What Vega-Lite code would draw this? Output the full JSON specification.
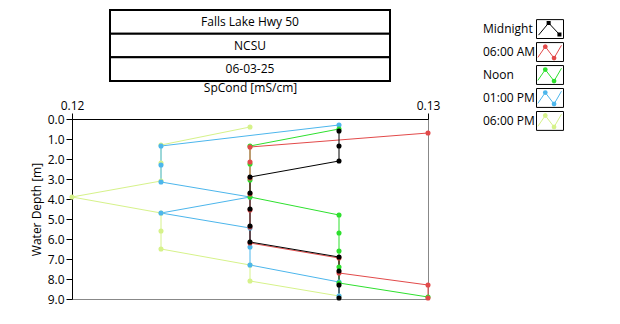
{
  "$schema": "https://vega.github.io/schema/vega-lite/v6.json",
  "padding": {"left": 29, "top": 9, "right": 5, "bottom": 5},
  "background": "white",
  "config": {
    "view": {"stroke": null},
    "font": "Open Sans",
    "axis": {"labelFont": "Open Sans", "titleFont": "Open Sans", "labelFontSize": 12, "titleFontSize": 12, "titleFontWeight": "normal", "labelColor": "black", "titleColor": "black", "domainColor": "black", "tickColor": "black", "grid": false},
    "text": {"font": "Open Sans"}
  },
  "hconcat": [
    {
      "vconcat": [
        {
          "width": 356,
          "height": 71,
          "data": {"values": [
            {"row": 1, "col": "a", "label": "Falls Lake Hwy 50"},
            {"row": 2, "col": "a", "label": "NCSU"},
            {"row": 3, "col": "a", "label": "06-03-25"}
          ]},
          "encoding": {
            "x": {"field": "col", "type": "nominal", "scale": {"type": "band", "paddingInner": 0, "paddingOuter": 0.1357}, "axis": null},
            "y": {"field": "row", "type": "ordinal", "scale": {"type": "band", "paddingInner": 0, "paddingOuter": 0}, "axis": null}
          },
          "layer": [
            {"mark": {"type": "rect", "fill": "white", "stroke": "black", "strokeWidth": 2}},
            {"mark": {"type": "text", "fontSize": 12, "color": "black"}, "encoding": {"text": {"field": "label"}}}
          ]
        },
        {
          "width": 356,
          "height": 180,
          "view": {"stroke": "#888888"},
          "data": {"values": [
            {"series": "06:00 PM", "depth": 0.4, "spc": 0.125},
            {"series": "06:00 PM", "depth": 1.3, "spc": 0.1225},
            {"series": "06:00 PM", "depth": 2.2, "spc": 0.1225},
            {"series": "06:00 PM", "depth": 3.1, "spc": 0.1225},
            {"series": "06:00 PM", "depth": 3.9, "spc": 0.12},
            {"series": "06:00 PM", "depth": 4.7, "spc": 0.1225},
            {"series": "06:00 PM", "depth": 5.6, "spc": 0.1225},
            {"series": "06:00 PM", "depth": 6.5, "spc": 0.1225},
            {"series": "06:00 PM", "depth": 7.3, "spc": 0.125},
            {"series": "06:00 PM", "depth": 8.1, "spc": 0.125},
            {"series": "06:00 PM", "depth": 8.85, "spc": 0.1275},
            {"series": "01:00 PM", "depth": 0.3, "spc": 0.1275},
            {"series": "01:00 PM", "depth": 1.35, "spc": 0.1225},
            {"series": "01:00 PM", "depth": 2.3, "spc": 0.1225},
            {"series": "01:00 PM", "depth": 3.15, "spc": 0.1225},
            {"series": "01:00 PM", "depth": 3.9, "spc": 0.125},
            {"series": "01:00 PM", "depth": 4.7, "spc": 0.1225},
            {"series": "01:00 PM", "depth": 5.45, "spc": 0.125},
            {"series": "01:00 PM", "depth": 6.4, "spc": 0.125},
            {"series": "01:00 PM", "depth": 7.3, "spc": 0.125},
            {"series": "01:00 PM", "depth": 8.15, "spc": 0.1275},
            {"series": "01:00 PM", "depth": 8.85, "spc": 0.1275},
            {"series": "Noon", "depth": 0.5, "spc": 0.1275},
            {"series": "Noon", "depth": 1.35, "spc": 0.125},
            {"series": "Noon", "depth": 2.25, "spc": 0.125},
            {"series": "Noon", "depth": 3.05, "spc": 0.125},
            {"series": "Noon", "depth": 3.9, "spc": 0.125},
            {"series": "Noon", "depth": 4.8, "spc": 0.1275},
            {"series": "Noon", "depth": 5.7, "spc": 0.1275},
            {"series": "Noon", "depth": 6.6, "spc": 0.1275},
            {"series": "Noon", "depth": 7.4, "spc": 0.1275},
            {"series": "Noon", "depth": 8.2, "spc": 0.1275},
            {"series": "Noon", "depth": 8.9, "spc": 0.13},
            {"series": "06:00 AM", "depth": 0.7, "spc": 0.13},
            {"series": "06:00 AM", "depth": 1.4, "spc": 0.125},
            {"series": "06:00 AM", "depth": 2.15, "spc": 0.125},
            {"series": "06:00 AM", "depth": 2.95, "spc": 0.125},
            {"series": "06:00 AM", "depth": 3.75, "spc": 0.125},
            {"series": "06:00 AM", "depth": 4.55, "spc": 0.125},
            {"series": "06:00 AM", "depth": 5.4, "spc": 0.125},
            {"series": "06:00 AM", "depth": 6.2, "spc": 0.125},
            {"series": "06:00 AM", "depth": 6.95, "spc": 0.1275},
            {"series": "06:00 AM", "depth": 7.7, "spc": 0.1275},
            {"series": "06:00 AM", "depth": 8.3, "spc": 0.13},
            {"series": "06:00 AM", "depth": 8.95, "spc": 0.13},
            {"series": "Midnight", "depth": 0.6, "spc": 0.1275},
            {"series": "Midnight", "depth": 1.35, "spc": 0.1275},
            {"series": "Midnight", "depth": 2.1, "spc": 0.1275},
            {"series": "Midnight", "depth": 2.9, "spc": 0.125},
            {"series": "Midnight", "depth": 3.7, "spc": 0.125},
            {"series": "Midnight", "depth": 4.5, "spc": 0.125},
            {"series": "Midnight", "depth": 5.35, "spc": 0.125},
            {"series": "Midnight", "depth": 6.15, "spc": 0.125},
            {"series": "Midnight", "depth": 6.9, "spc": 0.1275},
            {"series": "Midnight", "depth": 7.6, "spc": 0.1275},
            {"series": "Midnight", "depth": 8.3, "spc": 0.1275},
            {"series": "Midnight", "depth": 8.95, "spc": 0.1275}
          ]},
          "encoding": {
            "x": {"field": "spc", "type": "quantitative", "scale": {"domain": [0.12, 0.13], "nice": false, "zero": false},
                  "axis": {"orient": "top", "values": [0.12, 0.13], "format": ".2f", "title": "SpCond [mS/cm]", "tickSize": 6, "labelPadding": 1, "titlePadding": 5, "labelFlush": false}},
            "y": {"field": "depth", "type": "quantitative", "scale": {"domain": [0, 9], "reverse": true, "nice": false, "zero": false},
                  "axis": {"values": [0, 1, 2, 3, 4, 5, 6, 7, 8, 9], "format": ".1f", "title": "Water Depth [m]", "tickSize": 6, "labelPadding": 2, "titlePadding": 4}},
            "color": {"field": "series", "type": "nominal",
                      "scale": {"domain": ["Midnight", "06:00 AM", "Noon", "01:00 PM", "06:00 PM"], "range": ["#000000", "#e24a4a", "#2ee02e", "#4cb6ec", "#d6f28a"]},
                      "legend": null}
          },
          "layer": [
            {"mark": {"type": "line", "strokeWidth": 1}, "encoding": {"order": {"field": "depth", "type": "quantitative"}}},
            {"mark": {"type": "circle", "size": 26, "opacity": 1}}
          ]
        }
      ],
      "bounds": "flush",
      "spacing": 38
    },
    {
      "width": 67,
      "height": 130,
      "data": {"values": [
        {"series": "Midnight"},
        {"series": "06:00 AM"},
        {"series": "Noon"},
        {"series": "01:00 PM"},
        {"series": "06:00 PM"}
      ]},
      "encoding": {
        "y": {"field": "series", "type": "nominal", "sort": ["Midnight", "06:00 AM", "Noon", "01:00 PM", "06:00 PM"], "scale": {"type": "band", "paddingInner": 0, "paddingOuter": 0.33}, "axis": null},
        "x": {"datum": "label", "type": "nominal", "scale": {"type": "point", "domain": ["label", "icon"], "padding": 0}, "axis": null}
      },
      "layer": [
        {"mark": {"type": "text", "align": "left", "baseline": "middle", "fontSize": 12, "color": "black"}, "encoding": {"text": {"field": "series"}}},
        {"mark": {"type": "point", "shape": "M-1,-0.7H1V0.7H-1Z", "size": 729, "filled": true, "fill": "white", "stroke": "black", "strokeWidth": 1, "opacity": 1},
         "encoding": {"x": {"datum": "icon", "type": "nominal"}}},
        {"mark": {"type": "point", "filled": false, "size": 729, "strokeWidth": 1, "opacity": 1},
         "encoding": {
           "x": {"datum": "icon", "type": "nominal"},
           "shape": {"field": "series", "type": "nominal", "scale": {"domain": ["Midnight", "06:00 AM", "Noon", "01:00 PM", "06:00 PM"], "range": ["M-0.85,0.45L-0.1,-0.45L0.7,0.4", "M-0.9,0.4L-0.35,-0.4L0.3,0.45L0.85,-0.5", "M-0.9,0.4L-0.35,-0.4L0.3,0.45L0.85,-0.5", "M-0.9,0.4L-0.35,-0.4L0.3,0.45L0.85,-0.5", "M-0.9,0.4L-0.35,-0.4L0.3,0.45L0.85,-0.5"]}, "legend": null},
           "color": {"field": "series", "type": "nominal", "scale": {"domain": ["Midnight", "06:00 AM", "Noon", "01:00 PM", "06:00 PM"], "range": ["#000000", "#e24a4a", "#2ee02e", "#4cb6ec", "#d6f28a"]}, "legend": null}
         }},
        {"mark": {"type": "point", "filled": true, "size": 729, "opacity": 1},
         "encoding": {
           "x": {"datum": "icon", "type": "nominal"},
           "shape": {"field": "series", "type": "nominal", "scale": {"domain": ["Midnight", "06:00 AM", "Noon", "01:00 PM", "06:00 PM"], "range": [
             "M-0.25,-0.6H0.05V-0.3H-0.25Z M0.55,0.25H0.85V0.55H0.55Z",
             "M-0.53,-0.4L-0.48,-0.53L-0.35,-0.58L-0.22,-0.53L-0.17,-0.4L-0.22,-0.27L-0.35,-0.22L-0.48,-0.27Z M0.12,0.45L0.17,0.32L0.3,0.27L0.43,0.32L0.48,0.45L0.43,0.58L0.3,0.63L0.17,0.58Z",
             "M-0.53,-0.4L-0.48,-0.53L-0.35,-0.58L-0.22,-0.53L-0.17,-0.4L-0.22,-0.27L-0.35,-0.22L-0.48,-0.27Z M0.12,0.45L0.17,0.32L0.3,0.27L0.43,0.32L0.48,0.45L0.43,0.58L0.3,0.63L0.17,0.58Z",
             "M-0.53,-0.4L-0.48,-0.53L-0.35,-0.58L-0.22,-0.53L-0.17,-0.4L-0.22,-0.27L-0.35,-0.22L-0.48,-0.27Z M0.12,0.45L0.17,0.32L0.3,0.27L0.43,0.32L0.48,0.45L0.43,0.58L0.3,0.63L0.17,0.58Z",
             "M-0.53,-0.4L-0.48,-0.53L-0.35,-0.58L-0.22,-0.53L-0.17,-0.4L-0.22,-0.27L-0.35,-0.22L-0.48,-0.27Z M0.12,0.45L0.17,0.32L0.3,0.27L0.43,0.32L0.48,0.45L0.43,0.58L0.3,0.63L0.17,0.58Z"]}, "legend": null},
           "color": {"field": "series", "type": "nominal", "scale": {"domain": ["Midnight", "06:00 AM", "Noon", "01:00 PM", "06:00 PM"], "range": ["#000000", "#e24a4a", "#2ee02e", "#4cb6ec", "#d6f28a"]}, "legend": null}
         }}
      ],
      "resolve": {"scale": {"shape": "independent"}}
    }
  ],
  "bounds": "flush",
  "spacing": 411
}
